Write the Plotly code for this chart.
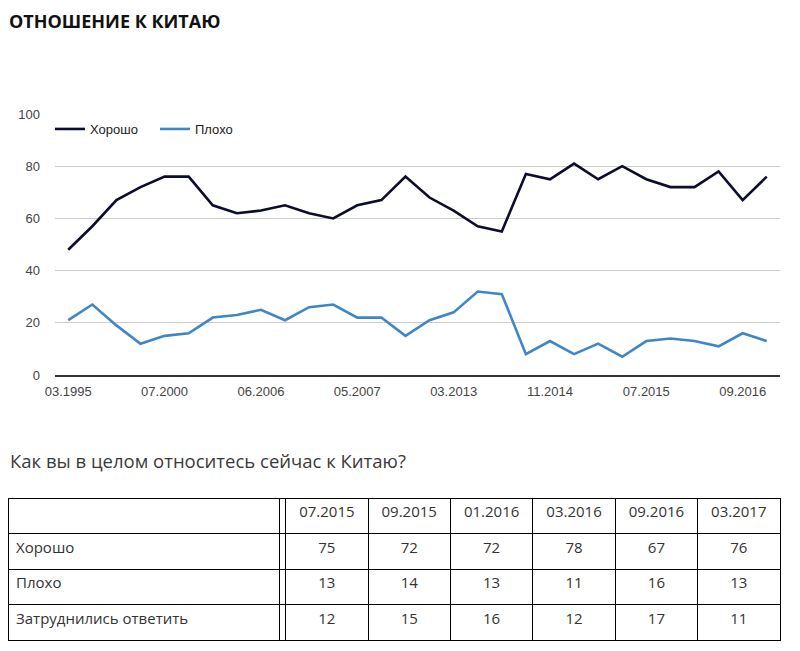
import plotly.graph_objects as go

# ---- data ----
good = [48, 57, 67, 72, 76, 76, 65, 62, 63, 65, 62, 60, 65, 67, 76,
        68, 63, 57, 55, 77, 75, 81, 75, 80, 75, 72, 72, 78, 67, 76]
bad = [21, 27, 19, 12, 15, 16, 22, 23, 25, 21, 26, 27, 22, 22, 15,
       21, 24, 32, 31, 8, 13, 8, 12, 7, 13, 14, 13, 11, 16, 13]
tick_pos = [0, 4, 8, 12, 16, 20, 24, 28]
tick_labels = ["03.1995", "07.2000", "06.2006", "05.2007",
               "03.2013", "11.2014", "07.2015", "09.2016"]

table_dates = ["07.2015", "09.2015", "01.2016", "03.2016", "09.2016", "03.2017"]
table_rows = ["Хорошо", "Плохо", "Затруднились ответить"]
table_good = [75, 72, 72, 78, 67, 76]
table_bad = [13, 14, 13, 11, 16, 13]
table_hard = [12, 15, 16, 12, 17, 11]

title_text = "ОТНОШЕНИЕ К КИТАЮ"
subtitle_text = "Как вы в целом относитесь сейчас к Китаю?"

# ---- layout helpers (page pixels -> paper); page body has an 8px margin ----
OFF = 8
W, H = 800 - 2 * OFF, 651 - 2 * OFF
ML, MR, MT, MB = 0, 12, 0, 0
PW, PH = W - ML - MR, H - MT - MB


def px_x(x):
    return (x - OFF - ML) / PW


def px_y(y):
    return 1 - (y - OFF - MT) / PH


xs = list(range(len(good)))

fig = go.Figure()
fig.add_trace(go.Scatter(x=xs, y=good, mode="lines", name="Хорошо",
                         line=dict(color="#0c0c2c", width=2.6)))
fig.add_trace(go.Scatter(x=xs, y=bad, mode="lines", name="Плохо",
                         line=dict(color="#3f86c6", width=2.6)))

osans = "Open Sans, sans-serif"
arial = "Liberation Sans, Arial, sans-serif"
cell_vals = [
    table_rows,
    ["", "", ""],
] + [[table_good[i], table_bad[i], table_hard[i]] for i in range(len(table_dates))]

fig.add_trace(go.Table(
    domain=dict(x=[max(0, px_x(7)), px_x(780)], y=[max(0, px_y(645)), px_y(498)]),
    columnwidth=[272, 6] + [82.5] * 6,
    header=dict(values=["", ""] + table_dates,
                align="center", height=35.5,
                line=dict(color="#000000", width=1),
                fill=dict(color="white"),
                font=dict(family=osans, size=15, color="#333333")),
    cells=dict(values=cell_vals,
               align=["left", "center"] + ["center"] * 6,
               height=35.5,
               line=dict(color="#000000", width=1),
               fill=dict(color="white"),
               font=dict(family=osans, size=15, color="#333333")),
))

fig.update_layout(
    width=W, height=H,
    margin=dict(l=ML, r=MR, t=MT, b=MB, autoexpand=False),
    paper_bgcolor="white", plot_bgcolor="white",
    showlegend=True,
    legend=dict(orientation="h", x=px_x(50), y=px_y(129), xanchor="left",
                yanchor="middle", bgcolor="rgba(0,0,0,0)",
                font=dict(family=arial, size=13, color="#222222"),
                entrywidth=60, entrywidthmode="pixels", itemwidth=30),
    xaxis=dict(domain=[px_x(55), px_x(780)], range=[-0.55, 29.55],
               tickvals=tick_pos, ticktext=tick_labels, automargin=False,
               showgrid=False, zeroline=False,
               showline=True, linecolor="#333333", linewidth=1.5,
               ticks="", ticklabelstandoff=4,
               tickfont=dict(family=arial, size=13, color="#444444")),
    yaxis=dict(domain=[px_y(375), px_y(114)], range=[0, 100],
               tickvals=[0, 20, 40, 60, 80, 100], automargin=False,
               showgrid=True, gridcolor="#cccccc", gridwidth=1,
               zeroline=False, showline=False, ticks="",
               ticklabelstandoff=14,
               tickfont=dict(family=arial, size=13, color="#444444")),
    annotations=[
        dict(text="<b>" + title_text + "</b>", xref="paper", yref="paper",
             x=0, y=1, xanchor="left", yanchor="top", showarrow=False, borderpad=0,
             font=dict(family=osans, size=18, color="#111111")),
        dict(text=subtitle_text, xref="paper", yref="paper",
             x=0, y=px_y(460), xanchor="left", yanchor="middle", showarrow=False,
             font=dict(family=osans, size=18.5, color="#3a3a3a")),
    ],
)

fig.write_html("out.html")
